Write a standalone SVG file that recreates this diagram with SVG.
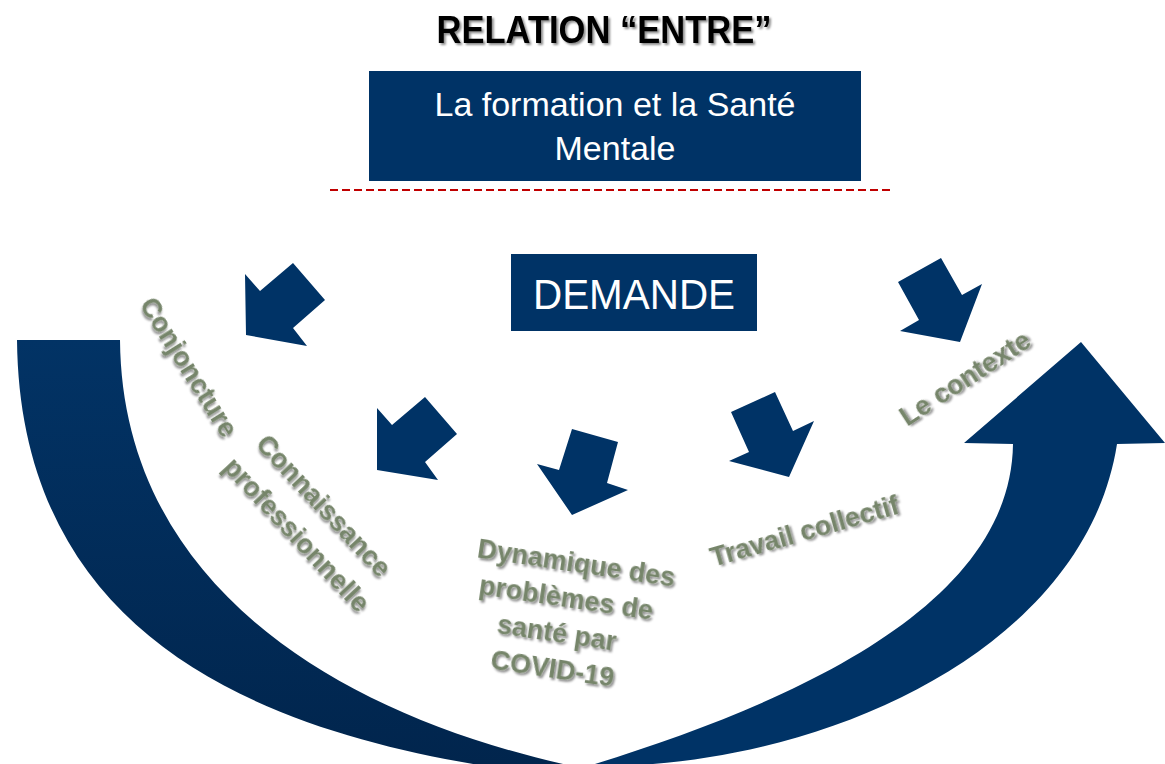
<svg xmlns="http://www.w3.org/2000/svg" width="1165" height="764" viewBox="0 0 1165 764">
<defs>
<linearGradient id="gLeft" x1="0" y1="0" x2="0" y2="1">
<stop offset="0" stop-color="#023365"/>
<stop offset="1" stop-color="#01254d"/>
</linearGradient>
<filter id="sh" x="-10%" y="-30%" width="130%" height="160%">
<feDropShadow dx="2" dy="2" stdDeviation="1.2" flood-color="#000" flood-opacity="0.45"/>
</filter>
</defs>
<style>
.box{fill:#003366}
.arr{fill:#003366}
.wt{fill:#ffffff;font-family:"Liberation Sans",Arial,sans-serif;text-anchor:middle}
.lbl{fill:#76856a;font-family:"Liberation Sans",Arial,sans-serif;font-weight:bold;font-size:27px;text-anchor:middle;filter:url(#sh)}
.title{fill:#000;font-family:"Liberation Sans",Arial,sans-serif;font-weight:bold;font-size:38px;text-anchor:middle;filter:url(#sh)}
</style>
<rect width="1165" height="764" fill="#ffffff"/>

<g id="title">
<text class="title" x="604" y="43" textLength="335" lengthAdjust="spacingAndGlyphs">RELATION “ENTRE”</text>
</g>

<g id="node-formation">
<rect class="box" x="369" y="71" width="492" height="110"/>
<text class="wt" x="615" y="116" font-size="34">La formation et la Santé</text>
<text class="wt" x="615" y="160" font-size="34">Mentale</text>
</g>

<g id="separator">
<line x1="330" y1="190" x2="893" y2="190" stroke="#c00000" stroke-width="2" stroke-dasharray="8 4"/>
</g>

<g id="node-demande">
<rect class="box" x="511" y="254" width="246" height="77"/>
<text class="wt" x="634" y="309" font-size="42" textLength="202" lengthAdjust="spacingAndGlyphs">DEMANDE</text>
</g>

<g id="big-arrow">
<path d="M17,340 L120,340 C122,580 330,713 572,766 L485,766 C266,730 20,640 17,340 Z" fill="url(#gLeft)"/>
<path d="M595,764 C800,700 1011,604 1013,444 L964,443 L1081,342 L1165,443 L1117,444 C1085,650 823,765 605,766 Z" fill="#003366"/>
</g>

<g id="connectors">
<polygon class="arr" points="245,274 260,291 293,263 325,300 293,328 307,346 246,335"/>
<polygon class="arr" points="377,408 392,425 425,397 457,434 425,462 438,480 377,470"/>
<polygon class="arr" points="572,429 618,442 607,483 628,490 572,515 537,464 559,470"/>
<polygon class="arr" points="731,412 775,392 793,431 814,421 789,477 729,461 749,452"/>
<polygon class="arr" points="898,282 941,258 962,295 982,284 960,342 900,331 919,320"/>
</g>

<g id="label-conjoncture">
<text class="lbl" transform="translate(181,372) rotate(58)">Conjoncture</text>
</g>

<g id="label-connaissance">
<text class="lbl" transform="translate(317,512) rotate(47)">Connaissance</text>
<text class="lbl" transform="translate(290,541) rotate(47)">professionnelle</text>
</g>

<g id="label-dynamique">
<g transform="translate(575,572) rotate(8.5)">
<text class="lbl" x="0" y="0">Dynamique des</text>
<text class="lbl" x="-5" y="36">problèmes de</text>
<text class="lbl" x="-9" y="72">santé par</text>
<text class="lbl" x="-8" y="108">COVID-19</text>
</g>
</g>

<g id="label-travail">
<text class="lbl" transform="translate(807,540) rotate(-16)">Travail collectif</text>
</g>

<g id="label-contexte">
<text class="lbl" font-size="31" transform="translate(970,386) rotate(-33)">Le contexte</text>
</g>
</svg>
